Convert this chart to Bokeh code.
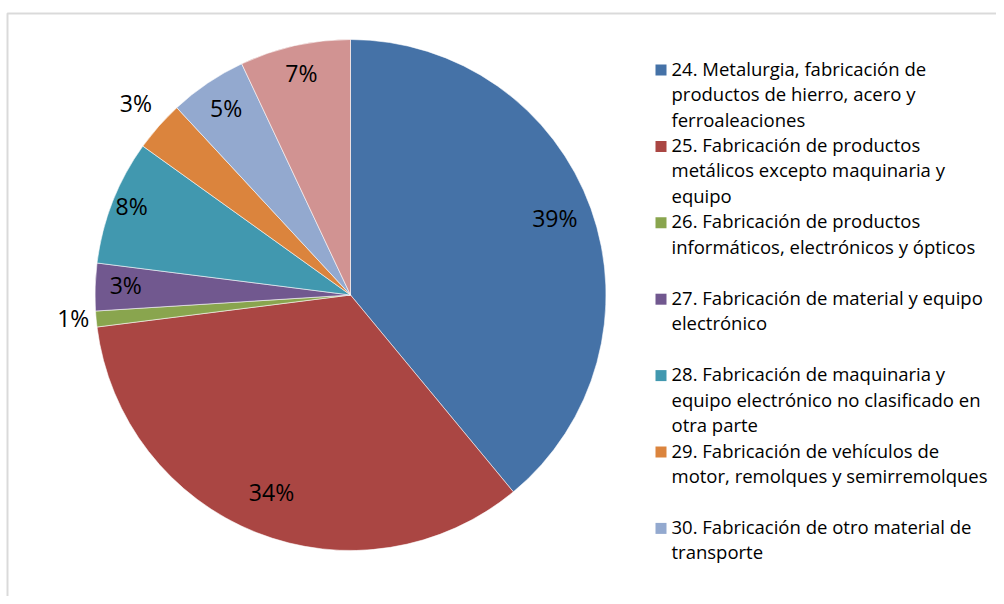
import math
from bokeh.plotting import figure
from bokeh.models import Range1d, ColumnDataSource, BoxAnnotation
from bokeh.core.properties import value
from bokeh.embed import file_html
from bokeh.resources import INLINE

categories = [
    "24. Metalurgia, fabricación de\nproductos de hierro, acero y\nferroaleaciones",
    "25. Fabricación de productos\nmetálicos excepto maquinaria y\nequipo",
    "26. Fabricación de productos\ninformáticos, electrónicos y ópticos",
    "27. Fabricación de material y equipo\nelectrónico",
    "28. Fabricación de maquinaria y\nequipo electrónico no clasificado en\notra parte",
    "29. Fabricación de vehículos de\nmotor, remolques y semirremolques",
    "30. Fabricación de otro material de\ntransporte",
    "31. Otros",
]
shares = [39.0, 34.0, 1.0, 3.0, 7.9, 3.2, 4.9, 7.0]
pct_labels = ["39%", "34%", "1%", "3%", "8%", "3%", "5%", "7%"]
colors = ["#4572A7", "#AA4643", "#89A54E", "#71588F", "#4198AF", "#DB843D", "#93A9CF", "#D19392"]
label_radius = [0.85, 0.84, 1.09, 0.88, 0.92, 1.12, 0.87, 0.88]
legend_count = 7

W, H = 996, 596
p = figure(width=W, height=H, output_backend="svg", toolbar_location=None,
           x_range=Range1d(0, W), y_range=Range1d(0, H), min_border=0)
p.axis.visible = False
p.grid.visible = False
p.outline_line_color = None
p.background_fill_color = "white"

p.add_layout(BoxAnnotation(left=7, right=W + 50, top=H - 13, bottom=-50,
                           fill_alpha=0, line_color="#868686", line_width=2))

cx, cy, R = 350, H - 294.5, 255.5
total = sum(shares)
starts, ends, mids = [], [], []
acc = 0.0
for s in shares:
    a0 = acc / total * 2 * math.pi
    acc += s
    a1 = acc / total * 2 * math.pi
    starts.append(math.pi / 2 - a0)
    ends.append(math.pi / 2 - a1)
    mids.append((a0 + a1) / 2)

src = ColumnDataSource(dict(start=starts, end=ends, color=colors))
p.wedge(x=cx, y=cy, radius=R, start_angle="start", end_angle="end", direction="clock",
        fill_color="color", line_color="white", line_width=0.8, line_alpha=0.7, source=src)

lx = [cx + R * f * math.sin(m) for f, m in zip(label_radius, mids)]
ly = [cy + R * f * math.cos(m) for f, m in zip(label_radius, mids)]
p.text(x=lx, y=ly, text=pct_labels, text_align="center", text_baseline="middle",
       y_offset=-3, text_font=value("Open Sans"), text_font_size="23px", text_color="black")

# legend
sq_x, tx = 660.5, 671
y0, slot, lh = H - 69.5, 76.4, 25.5
sqx, sqy, sqc = [], [], []
tl_x, tl_y, tl_t = [], [], []
for i in range(legend_count):
    yc = y0 - i * slot
    sqx.append(sq_x); sqy.append(yc); sqc.append(colors[i])
    for k, line in enumerate(categories[i].split("\n")):
        tl_x.append(tx); tl_y.append(yc - k * lh); tl_t.append(line)
p.scatter(x=sqx, y=sqy, marker="square", size=11, fill_color=sqc, line_color=None)
p.text(x=tl_x, y=tl_y, text=tl_t, text_align="left", text_baseline="middle",
       y_offset=-2, text_font=value("Open Sans"), text_font_size="18.5px", text_color="black")

open("out.html", "w").write(file_html(p, INLINE))
